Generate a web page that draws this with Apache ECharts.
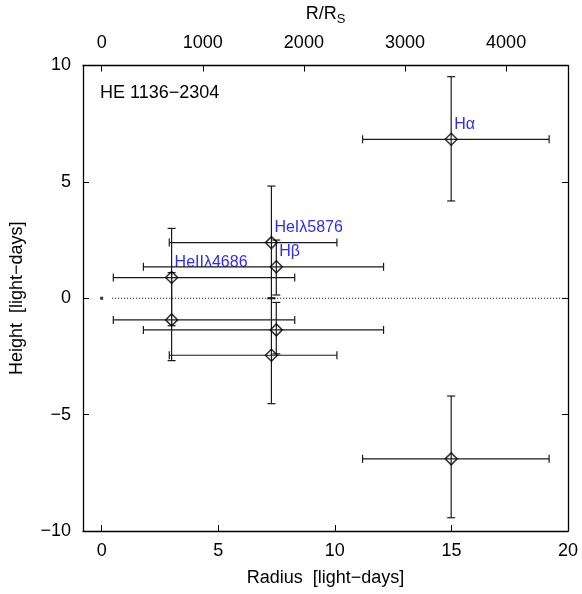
<!DOCTYPE html>
<html>
<head>
<meta charset="utf-8">
<script src="https://cdn.jsdelivr.net/npm/echarts@6/dist/echarts.min.js"></script>
<style>html,body{margin:0;padding:0;background:#fff}#c{width:582px;height:594px}</style>
</head>
<body>
<div id="c"></div>
<script>
// ---- data (light-days) ----
const lineNames = ['HeIIλ4686', 'HeIλ5876', 'Hβ', 'Hα'];
const radius    = [3.0, 7.28, 7.49, 14.99];
const radiusLo  = [0.5, 2.9, 1.79, 11.19];
const radiusHi  = [8.28, 10.09, 12.09, 19.19];
// upper (positive height) points
const heightUp   = [0.89, 2.39, 1.35, 6.83];
const heightUpLo = [-1.18, -0.02, 0.14, 4.18];
const heightUpHi = [3.0, 4.82, 2.5, 9.52];
// lower (mirrored) points
const heightDn   = [-0.93, -2.45, -1.36, -6.9];
const heightDnLo = [-2.68, -4.53, -2.39, -9.43];
const heightDnHi = [1.10, 0.02, -0.18, -4.2];
// central object and equatorial plane
const centre = [[0, 0]];
const planeLine = [[0.45, 0], [20, 0]];
// axes
const xTicks = [0, 5, 10, 15, 20];
const yTicks = [-10, -5, 0, 5, 10];
const rsTicks = [0, 1000, 2000, 3000, 4000];
const xMin = -0.8, xMax = 20;
const rsPerLd = 230.6;
const objectName = 'HE 1136−2304';

const FONT = 'Liberation Sans';
const BLUE = '#2c2cff';

const pts = [];
for (let i = 0; i < radius.length; i++) {
  pts.push([radius[i], heightUp[i], radiusLo[i], radiusHi[i], heightUpLo[i], heightUpHi[i], i, 1]);
  pts.push([radius[i], heightDn[i], radiusLo[i], radiusHi[i], heightDnLo[i], heightDnHi[i], i, 0]);
}

function renderErr(params, api) {
  const x = api.value(0), y = api.value(1);
  const xl = api.value(2), xh = api.value(3), yl = api.value(4), yh = api.value(5);
  const p = api.coord([x, y]);
  const pxl = api.coord([xl, y]), pxh = api.coord([xh, y]);
  const pyl = api.coord([x, yl]), pyh = api.coord([x, yh]);
  const st = {stroke: '#1a1a1a', lineWidth: 1.2};
  const cap = 4;
  const ch = [
    {type: 'line', shape: {x1: pxl[0], y1: p[1], x2: pxh[0], y2: p[1]}, style: st},
    {type: 'line', shape: {x1: pxl[0], y1: p[1] - cap, x2: pxl[0], y2: p[1] + cap}, style: st},
    {type: 'line', shape: {x1: pxh[0], y1: p[1] - cap, x2: pxh[0], y2: p[1] + cap}, style: st},
    {type: 'line', shape: {x1: p[0], y1: pyl[1], x2: p[0], y2: pyh[1]}, style: st},
    {type: 'line', shape: {x1: p[0] - cap, y1: pyl[1], x2: p[0] + cap, y2: pyl[1]}, style: st},
    {type: 'line', shape: {x1: p[0] - cap, y1: pyh[1], x2: p[0] + cap, y2: pyh[1]}, style: st}
  ];
  if (api.value(7) === 1) {
    ch.push({type: 'text', style: {text: lineNames[api.value(6)], x: p[0] + 3, y: p[1] - 7,
      textAlign: 'left', textVerticalAlign: 'bottom', fill: BLUE, font: '16px "' + FONT + '"'}});
  }
  return {type: 'group', children: ch};
}

const chart = echarts.init(document.getElementById('c'), null, {renderer: 'canvas'});
const axisLineStyle = {color: '#000', width: 1.3};
const labelStyle = {color: '#000', fontFamily: FONT, fontSize: 18};
chart.setOption({
  animation: false,
  backgroundColor: '#fff',
  grid: {left: 82, right: 14, top: 64, bottom: 63},
  graphic: [{type: 'text', left: 100, top: 84, style: {text: objectName, fill: '#000', font: '18px "' + FONT + '"'}}],
  xAxis: [{
    type: 'value', position: 'bottom', min: xMin, max: xMax,
    name: 'Radius  [light−days]', nameLocation: 'middle', nameGap: 38,
    nameTextStyle: {color: '#000', fontFamily: FONT, fontSize: 18},
    axisLine: {show: true, onZero: false, lineStyle: axisLineStyle},
    axisTick: {show: true, inside: true, length: 6, customValues: xTicks, lineStyle: {color: '#000'}},
    axisLabel: {show: true, margin: 11, customValues: xTicks, ...labelStyle, showMinLabel: true, showMaxLabel: true,
                formatter: v => String(v)},
    splitLine: {show: false}
  }, {
    type: 'value', position: 'top', min: xMin * rsPerLd, max: xMax * rsPerLd,
    name: '{a|R/R}{b|S}', nameLocation: 'middle', nameGap: 40,
    nameTextStyle: {rich: {a: {fontFamily: FONT, fontSize: 18, color: '#000'},
                           b: {fontFamily: FONT, fontSize: 13, color: '#000', padding: [10, 0, 0, 0]}}},
    axisLine: {show: true, onZero: false, lineStyle: axisLineStyle},
    axisTick: {show: true, inside: true, length: 6, customValues: rsTicks, lineStyle: {color: '#000'}},
    axisLabel: {show: true, margin: 13, customValues: rsTicks, ...labelStyle, formatter: v => String(v)},
    splitLine: {show: false}
  }],
  yAxis: [{
    type: 'value', position: 'left', min: -10, max: 10, interval: 5,
    name: 'Height  [light−days]', nameLocation: 'middle', nameGap: 57,
    nameTextStyle: {color: '#000', fontFamily: FONT, fontSize: 18},
    axisLine: {show: true, onZero: false, lineStyle: axisLineStyle},
    axisTick: {show: true, inside: true, length: 6, lineStyle: {color: '#000'}},
    axisLabel: {show: true, margin: 12, ...labelStyle, formatter: v => String(v).replace('-', '−')},
    splitLine: {show: false}
  }, {
    type: 'value', position: 'right', min: -10, max: 10, interval: 5,
    axisLine: {show: true, onZero: false, lineStyle: axisLineStyle},
    axisTick: {show: true, inside: true, length: 6, lineStyle: {color: '#000'}},
    axisLabel: {show: false},
    splitLine: {show: false}
  }],
  series: [{
    type: 'line', data: planeLine, xAxisIndex: 0, yAxisIndex: 0, symbol: 'none',
    lineStyle: {color: '#000', width: 1, type: [1, 2]}, silent: true
  }, {
    type: 'scatter', data: centre, symbol: 'rect', symbolSize: 3,
    itemStyle: {color: '#000'}, silent: true
  }, {
    type: 'custom', data: pts, renderItem: renderErr, encode: {x: 0, y: 1}, silent: true, z: 3
  }, {
    type: 'scatter', data: pts.map(d => [d[0], d[1]]), symbol: 'diamond', symbolSize: [12, 12],
    itemStyle: {color: 'rgba(0,0,0,0)', borderColor: '#000', borderWidth: 1.5}, silent: true, z: 4
  }]
});
</script>
</body>
</html>
